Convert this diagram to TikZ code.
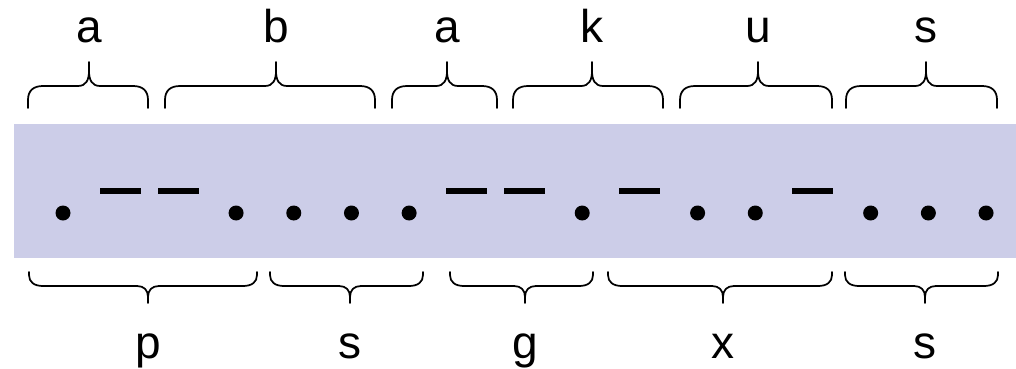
\documentclass[tikz,border=0pt]{standalone}
\usepackage{fontspec}
\setmainfont{Liberation Sans}
\definecolor{bandcol}{RGB}{204,205,232}
\tikzset{
  bracestyle/.style={draw=black, line width=1.3pt, line join=round, line cap=round},
  lab/.style={font=\fontsize{34.5}{40}\selectfont, anchor=base, inner sep=0pt},
  dotmark/.style={circle, fill=black, inner sep=0pt, minimum size=11.25pt},
  dashmark/.style={rectangle, fill=black, inner sep=0pt, minimum width=30.75pt, minimum height=4.4pt},
}
% top brace: x1, x2, xm
\newcommand\topbr[3]{%
  \draw[bracestyle] (#1,108) -- (#1,100) .. controls (#1,91) and ({#1+5},86) .. ({#1+15},86)
    -- ({#3-11},86) .. controls ({#3-3},86) and (#3,80) .. (#3,71) -- (#3,62)
    (#3,71) .. controls (#3,80) and ({#3+3},86) .. ({#3+11},86)
    -- ({#2-15},86) .. controls ({#2-5},86) and (#2,91) .. (#2,100) -- (#2,108);}
% bottom brace
\newcommand\botbr[3]{%
  \draw[bracestyle] (#1,272) -- (#1,275) .. controls (#1,282) and ({#1+5},286) .. ({#1+14},286)
    -- ({#3-11},286) .. controls ({#3-4},286) and (#3,290) .. (#3,297) -- (#3,303)
    (#3,297) .. controls (#3,290) and ({#3+4},286) .. ({#3+11},286)
    -- ({#2-14},286) .. controls ({#2-5},286) and (#2,282) .. (#2,275) -- (#2,272);}
\begin{document}
\begin{tikzpicture}[x=0.75pt,y=-0.75pt]
\useasboundingbox (0,0) rectangle (1016,368);
\fill[bandcol] (14,124) rectangle (1016,258);
% morse symbols
\foreach \t [count=\i from 0] in {d,m,m,d,d,d,d,m,m,d,m,d,d,m,d,d,d}{
  \pgfmathsetmacro\xx{63+57.69*\i}
  \if d\t
    \node[dotmark] (s\i) at (\xx,213) {};
  \else
    \node[dashmark] (s\i) at (\xx,191) {};
  \fi
}
% top braces and labels
\topbr{28}{148}{89}
\topbr{165}{375}{276}
\topbr{392}{497}{447}
\topbr{513}{663}{592}
\topbr{680}{832}{758}
\topbr{846}{997}{926}
\node[lab] (t1) at (89,42) {a};
\node[lab] (t2) at (276,42) {b};
\node[lab] (t3) at (447,42) {a};
\node[lab] (t4) at (592,42) {k};
\node[lab] (t5) at (758,42) {u};
\node[lab] (t6) at (926,42) {s};
% bottom braces and labels
\botbr{29}{257}{148}
\botbr{270}{423}{350}
\botbr{450}{593}{525}
\botbr{608}{832}{723}
\botbr{845}{998}{925}
\node[lab] (b1) at (148,358) {p};
\node[lab] (b2) at (350,358) {s};
\node[lab] (b3) at (525,358) {g};
\node[lab] (b4) at (723,358) {x};
\node[lab] (b5) at (925,358) {s};
\end{tikzpicture}
\end{document}
